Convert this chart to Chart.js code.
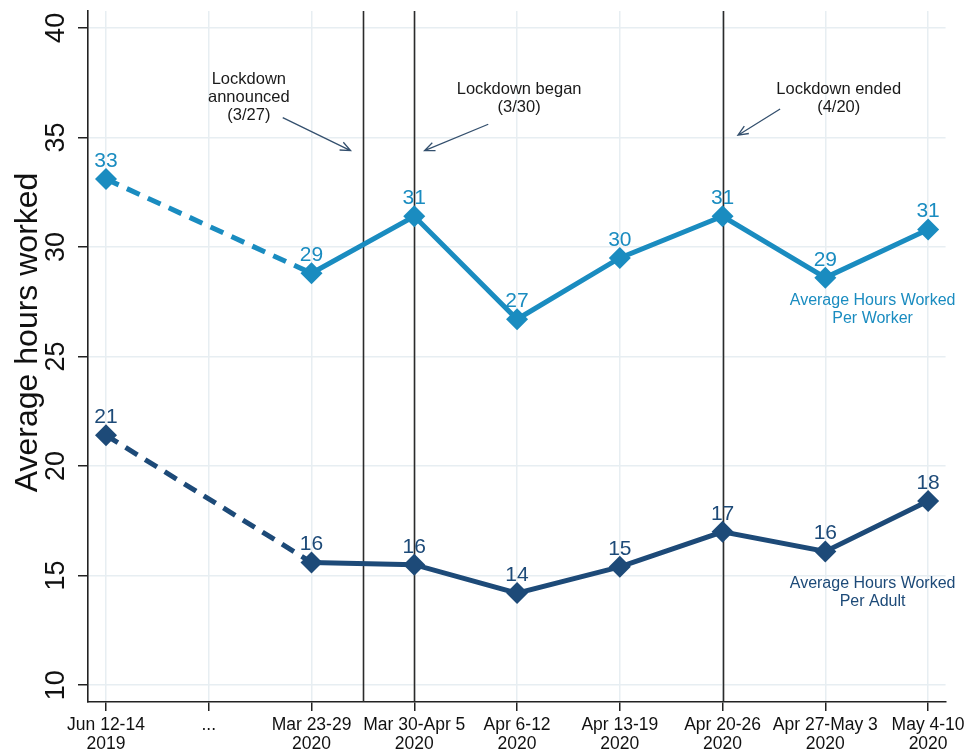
<!DOCTYPE html>
<html>
<head>
<meta charset="utf-8">
<script src="https://cdn.jsdelivr.net/npm/chart.js@4.4.1/dist/chart.umd.min.js"></script>
<style>
  html, body { margin: 0; padding: 0; background: #fff; }
  #wrap { width: 969px; height: 755px; position: relative; }
</style>
</head>
<body>
<div id="wrap"><canvas id="hoursChart"></canvas></div>
<script>
// ── Data ────────────────────────────────────────────────────
const weekLabels = [
    ['Jun 12-14', '2019'], ['...'], ['Mar 23-29', '2020'], ['Mar 30-Apr 5', '2020'],
    ['Apr 6-12', '2020'], ['Apr 13-19', '2020'], ['Apr 20-26', '2020'],
    ['Apr 27-May 3', '2020'], ['May 4-10', '2020']
];
const workerHours = [33.1, null, 28.8, 31.4, 26.7, 29.5, 31.4, 28.6, 30.8];
const adultHours  = [21.4, null, 15.6, 15.5, 14.2, 15.4, 17.0, 16.1, 18.4];
const yTicks      = [10, 15, 20, 25, 30, 35, 40];

// event lines (x in week index units)
const eventWeeks  = [2.5, 3, 6];
const eventNotes  = [
    { lines: ['Lockdown', 'announced', '(3/27)'], x: 1.39, y: 37.42, from: [1.72, 35.9], to: [2.38, 34.4] },
    { lines: ['Lockdown began', '(3/30)'],        x: 4.02, y: 36.98, from: [3.72, 35.6], to: [3.1, 34.4] },
    { lines: ['Lockdown ended', '(4/20)'],        x: 7.13, y: 36.98, from: [6.56, 36.3], to: [6.15, 35.1] }
];
const seriesNotes = [
    { lines: ['Average Hours Worked', 'Per Worker'], x: 7.46, y: 27.35, color: '#1a8cc0' },
    { lines: ['Average Hours Worked', 'Per Adult'],  x: 7.46, y: 14.45, color: '#1d4a78' }
];

const WORKER_COLOR = '#1a8cc0';
const ADULT_COLOR  = '#1d4a78';
const FONT = "'Liberation Sans', Arial, Helvetica, sans-serif";

function toPoints(arr) {
    return arr.map((v, i) => (v == null ? null : { x: i, y: v })).filter(p => p);
}

function makeSeries(label, values, color) {
    return {
        label,
        data: toPoints(values),
        borderColor: color,
        backgroundColor: color,
        borderWidth: 5,
        pointStyle: 'rectRot',
        pointRadius: 11,
        pointHoverRadius: 11,
        pointBorderWidth: 0,
        tension: 0,
        segment: {
            borderDash: ctx => (ctx.p0.parsed.x === 0 ? [14, 9] : undefined)
        }
    };
}

// ── Plugin: event lines, labels, notes ──────────────────────
const annotate = {
    id: 'annotate',
    beforeDatasetsDraw(chart) {
        const { ctx, chartArea, scales: { x } } = chart;
        ctx.save();
        ctx.strokeStyle = '#2b2b2b';
        ctx.lineWidth = 1.6;
        eventWeeks.forEach(w => {
            const px = Math.round(x.getPixelForValue(w)) + 0.5;
            ctx.beginPath();
            ctx.moveTo(px, chartArea.top);
            ctx.lineTo(px, chartArea.bottom);
            ctx.stroke();
        });
        ctx.restore();
    },
    afterDatasetsDraw(chart) {
        const { ctx, scales: { x, y } } = chart;
        ctx.save();

        // value labels
        ctx.font = '21px ' + FONT;
        ctx.textAlign = 'center';
        ctx.textBaseline = 'alphabetic';
        chart.data.datasets.forEach(ds => {
            ctx.fillStyle = ds.borderColor;
            ds.data.forEach(p => {
                ctx.fillText(Math.round(p.y), x.getPixelForValue(p.x), y.getPixelForValue(p.y) - 12);
            });
        });

        // event notes + arrows
        ctx.font = '16.5px ' + FONT;
        ctx.fillStyle = '#1a1a1a';
        eventNotes.forEach(n => {
            const cx = x.getPixelForValue(n.x);
            const cy = y.getPixelForValue(n.y);
            n.lines.forEach((t, i) => ctx.fillText(t, cx, cy + i * 18));
            const x0 = x.getPixelForValue(n.from[0]), y0 = y.getPixelForValue(n.from[1]);
            const x1 = x.getPixelForValue(n.to[0]),   y1 = y.getPixelForValue(n.to[1]);
            ctx.strokeStyle = '#34506e';
            ctx.lineWidth = 1.3;
            ctx.beginPath();
            ctx.moveTo(x0, y0);
            ctx.lineTo(x1, y1);
            const ang = Math.atan2(y1 - y0, x1 - x0);
            const head = 11;
            ctx.moveTo(x1 - head * Math.cos(ang - 0.4), y1 - head * Math.sin(ang - 0.4));
            ctx.lineTo(x1, y1);
            ctx.lineTo(x1 - head * Math.cos(ang + 0.4), y1 - head * Math.sin(ang + 0.4));
            ctx.stroke();
        });

        // series notes
        ctx.font = '16px ' + FONT;
        seriesNotes.forEach(n => {
            ctx.fillStyle = n.color;
            const cx = x.getPixelForValue(n.x);
            const cy = y.getPixelForValue(n.y);
            n.lines.forEach((t, i) => ctx.fillText(t, cx, cy + i * 18));
        });

        // rotated y tick labels
        ctx.font = '27px ' + FONT;
        ctx.fillStyle = '#111';
        y.ticks.forEach(t => {
            const py = y.getPixelForValue(t.value);
            ctx.save();
            ctx.translate(y.right - 24, py);
            ctx.rotate(-Math.PI / 2);
            ctx.fillText(String(t.value), 0, 0);
            ctx.restore();
        });

        // y axis title (sits a bit above the plot centre)
        ctx.font = '32px ' + FONT;
        ctx.save();
        ctx.translate(37, y.getPixelForValue(26.1));
        ctx.rotate(-Math.PI / 2);
        ctx.fillText('Average hours worked', 0, 0);
        ctx.restore();
        ctx.restore();
    }
};

const ctx = document.getElementById('hoursChart').getContext('2d');
new Chart(ctx, {
    type: 'line',
    data: {
        datasets: [
            makeSeries('Average Hours Worked Per Worker', workerHours, WORKER_COLOR),
            makeSeries('Average Hours Worked Per Adult', adultHours, ADULT_COLOR)
        ]
    },
    plugins: [annotate],
    options: {
        responsive: true,
        maintainAspectRatio: false,
        animation: false,
        layout: { padding: { left: 0, right: 21, top: 5, bottom: 0 } },
        plugins: {
            legend: { display: false },
            tooltip: { enabled: false }
        },
        scales: {
            x: {
                type: 'linear',
                min: -0.175,
                max: 8.17,
                afterBuildTicks: s => { s.ticks = weekLabels.map((_, i) => ({ value: i })); },
                afterFit: s => { s.height = 53; },
                grid: { color: '#e7eef2', lineWidth: 1.5, tickColor: '#222', tickLength: 9, tickWidth: 1.5 },
                border: { color: '#222', width: 1.6 },
                ticks: {
                    autoSkip: false,
                    maxRotation: 0,
                    padding: 4,
                    color: '#111',
                    font: { family: FONT, size: 17.5, lineHeight: 1.12 },
                    callback: v => weekLabels[v] || ''
                }
            },
            y: {
                min: 9.23,
                max: 40.77,
                afterBuildTicks: s => { s.ticks = yTicks.map(v => ({ value: v })); },
                afterFit: s => { s.width = 88; },
                grid: { color: '#e7eef2', lineWidth: 1.5, tickColor: '#222', tickLength: 10, tickWidth: 1.5 },
                border: { color: '#222', width: 1.6 },
                ticks: { display: false }
            }
        }
    }
});
</script>
</body>
</html>
